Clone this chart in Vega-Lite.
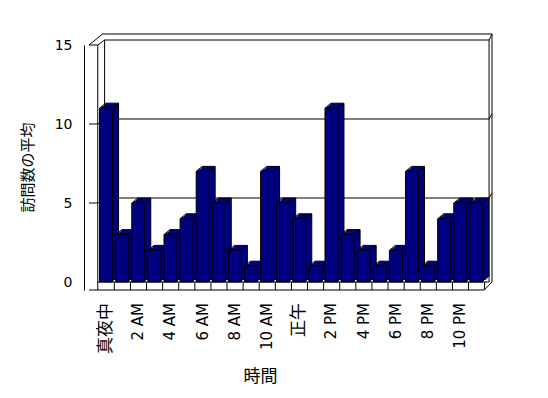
{
  "$schema": "https://vega.github.io/schema/vega-lite/v6.json",
  "autosize": "none",
  "width": 413,
  "height": 245,
  "padding": {"left": 84, "top": 45, "right": 51, "bottom": 108},
  "background": "white",
  "config": {
    "view": {"stroke": null},
    "axisY": {"labelOverlap": false, "labelFontSize": 14, "labelColor": "black", "labelFont": "DejaVu Sans", "labelPadding": 12, "ticks": false, "grid": false, "domainColor": "black"}
  },
  "datasets": {
    "visits": [
      {"h": 0, "v": 11}, {"h": 1, "v": 3}, {"h": 2, "v": 5}, {"h": 3, "v": 2},
      {"h": 4, "v": 3}, {"h": 5, "v": 4}, {"h": 6, "v": 7}, {"h": 7, "v": 5},
      {"h": 8, "v": 2}, {"h": 9, "v": 1}, {"h": 10, "v": 7}, {"h": 11, "v": 5},
      {"h": 12, "v": 4}, {"h": 13, "v": 1}, {"h": 14, "v": 11}, {"h": 15, "v": 3},
      {"h": 16, "v": 2}, {"h": 17, "v": 1}, {"h": 18, "v": 2}, {"h": 19, "v": 7},
      {"h": 20, "v": 1}, {"h": 21, "v": 4}, {"h": 22, "v": 5}, {"h": 23, "v": 5}
    ],
    "hourLabels": [
      {"h": 2, "t": "2 AM"}, {"h": 4, "t": "4 AM"}, {"h": 6, "t": "6 AM"},
      {"h": 8, "t": "8 AM"}, {"h": 10, "t": "10 AM"}, {"h": 14, "t": "2 PM"},
      {"h": 16, "t": "4 PM"}, {"h": 18, "t": "6 PM"}, {"h": 20, "t": "8 PM"}, {"h": 22, "t": "10 PM"}
    ],
    "cjkLabels": [{"h": 0, "t": "真夜中"}, {"h": 12, "t": "正午"}],
    "grid": [{"g": 5}, {"g": 10}]
  },
  "layer": [
    {"data": {"name": "visits"}, "mark": {"type": "bar", "width": 13, "color": "#000080", "xOffset": 1, "yOffset": -1, "y2Offset": -1},
     "encoding": {
       "x": {"field": "h", "type": "quantitative",
             "scale": {"domain": [-1.0606, 23.9697], "nice": false, "zero": false},
             "axis": {"labels": false, "ticks": false, "domain": false, "grid": false,
                      "title": "時間", "titleFont": "Noto Sans CJK JP", "titleFontSize": 17, "titleFontWeight": "normal", "titleColor": "black",
                      "titleX": 176, "titleY": 78}},
       "y": {"field": "v", "type": "quantitative",
             "scale": {"domain": [-0.5063, 15], "nice": false, "zero": false},
             "axis": {"values": [0, 5, 10, 15], "labelFontSize": 14, "labelFont": "DejaVu Sans",
                      "title": "訪問数の平均", "titleFont": "Noto Sans CJK JP", "titleFontSize": 15, "titleFontWeight": "normal", "titleColor": "black",
                      "titleX": -57, "titleY": 122, "titleAlign": "center", "titleBaseline": "middle"}},
       "y2": {"datum": 0}
     }},
    {"data": {"name": "visits"}, "mark": {"type": "bar", "width": 13, "color": "#000080", "xOffset": 2, "yOffset": -2, "y2Offset": -2}, "encoding": {"x": {"field": "h", "type": "quantitative"}, "y": {"field": "v", "type": "quantitative"}, "y2": {"datum": 0}}},
    {"data": {"name": "visits"}, "mark": {"type": "bar", "width": 13, "color": "#000080", "xOffset": 3, "yOffset": -2, "y2Offset": -2}, "encoding": {"x": {"field": "h", "type": "quantitative"}, "y": {"field": "v", "type": "quantitative"}, "y2": {"datum": 0}}},
    {"data": {"name": "visits"}, "mark": {"type": "bar", "width": 13, "color": "#000080", "xOffset": 4, "yOffset": -3, "y2Offset": -3}, "encoding": {"x": {"field": "h", "type": "quantitative"}, "y": {"field": "v", "type": "quantitative"}, "y2": {"datum": 0}}},
    {"data": {"name": "visits"}, "mark": {"type": "bar", "width": 13, "color": "#000080", "xOffset": 5, "yOffset": -4, "y2Offset": -4}, "encoding": {"x": {"field": "h", "type": "quantitative"}, "y": {"field": "v", "type": "quantitative"}, "y2": {"datum": 0}}},
    {"data": {"values": [{}]}, "mark": {"type": "rule", "color": "black"}, "encoding": {"x": {"datum": -1.0606}, "x2": {"datum": 23.4848}, "y": {"datum": -0.5063}, "y2": {"datum": -0.5063}}},
    {"data": {"values": [{}]}, "mark": {"type": "rule", "color": "black"}, "encoding": {"x": {"datum": 23.4848}, "x2": {"datum": 23.9697}, "y": {"datum": -0.5063}, "y2": {"datum": 0}}},
    {"data": {"values": [{}]}, "mark": {"type": "rule", "color": "black"}, "encoding": {"x": {"datum": 23.9697}, "y": {"datum": 0}, "y2": {"datum": 15.696}}},
    {"data": {"values": [{}]}, "mark": {"type": "rule", "color": "black"}, "encoding": {"x": {"datum": -0.2121}, "x2": {"datum": 23.9697}, "y": {"datum": 15.696}, "y2": {"datum": 15.696}}},
    {"data": {"values": [{}]}, "mark": {"type": "rule", "color": "black"}, "encoding": {"x": {"datum": -1.0606}, "x2": {"datum": -0.2121}, "y": {"datum": 15}, "y2": {"datum": 15.696}}},
    {"data": {"values": [{}]}, "mark": {"type": "rule", "color": "black"}, "encoding": {"x": {"datum": -1.0606}, "x2": {"datum": -0.5152}, "y": {"datum": 15}, "y2": {"datum": 15}}},
    {"data": {"values": [{}]}, "mark": {"type": "rule", "color": "black"}, "encoding": {"x": {"datum": -0.5152}, "x2": {"datum": -0.0909}, "y": {"datum": 15}, "y2": {"datum": 15.316}}},
    {"data": {"values": [{}]}, "mark": {"type": "rule", "color": "black"}, "encoding": {"x": {"datum": -0.5152}, "y": {"datum": -0.5063}, "y2": {"datum": 15}}},
    {"data": {"values": [{}]}, "mark": {"type": "rule", "color": "black"}, "encoding": {"x": {"datum": -0.0909}, "y": {"datum": 0}, "y2": {"datum": 15.316}}},
    {"data": {"values": [{}]}, "mark": {"type": "rule", "color": "black"}, "encoding": {"x": {"datum": -0.0909}, "x2": {"datum": 23.7879}, "y": {"datum": 15.316}, "y2": {"datum": 15.316}}},
    {"data": {"values": [{}]}, "mark": {"type": "rule", "color": "black"}, "encoding": {"x": {"datum": 23.7879}, "y": {"datum": 0}, "y2": {"datum": 15.316}}},
    {"data": {"values": [{}]}, "mark": {"type": "rule", "color": "black"}, "encoding": {"x": {"datum": -0.5152}, "x2": {"datum": 23.7879}, "y": {"datum": 0}, "y2": {"datum": 0}}},
    {"data": {"values": [{}]}, "mark": {"type": "rule", "color": "black"}, "encoding": {"x": {"datum": 23.7879}, "x2": {"datum": 23.9697}, "y": {"datum": 15.316}, "y2": {"datum": 15.696}}},
    {"data": {"name": "grid"}, "mark": {"type": "rule", "color": "black", "yOffset": -5, "y2Offset": -5}, "encoding": {"x": {"datum": -0.0909}, "x2": {"datum": 23.7879}, "y": {"field": "g", "type": "quantitative"}, "y2": {"field": "g"}}},
    {"data": {"name": "grid"}, "mark": {"type": "rule", "color": "black", "yOffset": -5, "y2Offset": -10}, "encoding": {"x": {"datum": 23.7879}, "x2": {"datum": 23.9697}, "y": {"field": "g", "type": "quantitative"}, "y2": {"field": "g"}}},
    {"data": {"name": "grid"}, "mark": {"type": "rule", "color": "black"}, "encoding": {"x": {"datum": -1.0606}, "x2": {"datum": -0.5152}, "y": {"field": "g", "type": "quantitative"}, "y2": {"field": "g"}}},
    {"data": {"name": "grid"}, "mark": {"type": "rule", "color": "black", "y2Offset": -5}, "encoding": {"x": {"datum": -0.5152}, "x2": {"datum": -0.0909}, "y": {"field": "g", "type": "quantitative"}, "y2": {"field": "g"}}},
    {"data": {"name": "visits"}, "mark": {"type": "bar", "width": 13, "color": "#000080", "xOffset": 6, "yOffset": -5, "y2Offset": -5}, "encoding": {"x": {"field": "h", "type": "quantitative"}, "y": {"field": "v", "type": "quantitative"}, "y2": {"datum": 0}}},
    {"data": {"name": "visits"}, "mark": {"type": "rule", "color": "black", "xOffset": -6.5, "x2Offset": -0.5, "y2Offset": -5}, "encoding": {"x": {"field": "h", "type": "quantitative"}, "x2": {"field": "h"}, "y": {"field": "v", "type": "quantitative"}, "y2": {"field": "v"}}},
    {"data": {"name": "visits"}, "mark": {"type": "rule", "color": "black", "xOffset": -0.5, "x2Offset": 12.5, "yOffset": -5, "y2Offset": -5}, "encoding": {"x": {"field": "h", "type": "quantitative"}, "x2": {"field": "h"}, "y": {"field": "v", "type": "quantitative"}, "y2": {"field": "v"}}},
    {"data": {"name": "visits"}, "mark": {"type": "rule", "color": "black", "xOffset": 6.5, "x2Offset": 12.5, "y2Offset": -5}, "encoding": {"x": {"field": "h", "type": "quantitative"}, "x2": {"field": "h"}, "y": {"field": "v", "type": "quantitative"}, "y2": {"field": "v"}}},
    {"data": {"name": "visits"}, "mark": {"type": "rule", "color": "black", "xOffset": 12.5, "yOffset": -5, "y2Offset": -5}, "encoding": {"x": {"field": "h", "type": "quantitative"}, "y": {"field": "v", "type": "quantitative"}, "y2": {"datum": 0}}},
    {"data": {"name": "visits"}, "mark": {"type": "bar", "width": 13, "color": "#000080", "stroke": "black", "strokeWidth": 1}, "encoding": {"x": {"field": "h", "type": "quantitative"}, "y": {"field": "v", "type": "quantitative"}, "y2": {"datum": 0}}},
    {"data": {"name": "visits"}, "mark": {"type": "rule", "color": "black", "xOffset": 8.25}, "encoding": {"x": {"field": "h", "type": "quantitative"}, "y": {"datum": 0}, "y2": {"datum": -0.5063}}},
    {"data": {"name": "hourLabels"}, "mark": {"type": "text", "angle": 270, "align": "right", "baseline": "middle", "yOffset": 13, "color": "black", "font": "DejaVu Sans", "fontSize": 15},
     "encoding": {"x": {"field": "h", "type": "quantitative"}, "y": {"datum": -0.5063}, "text": {"field": "t"}}},
    {"data": {"name": "cjkLabels"}, "mark": {"type": "text", "angle": 270, "align": "right", "baseline": "middle", "yOffset": 13, "color": "black", "font": "Noto Sans CJK JP", "fontSize": 17},
     "encoding": {"x": {"field": "h", "type": "quantitative"}, "y": {"datum": -0.5063}, "text": {"field": "t"}}}
  ]
}
